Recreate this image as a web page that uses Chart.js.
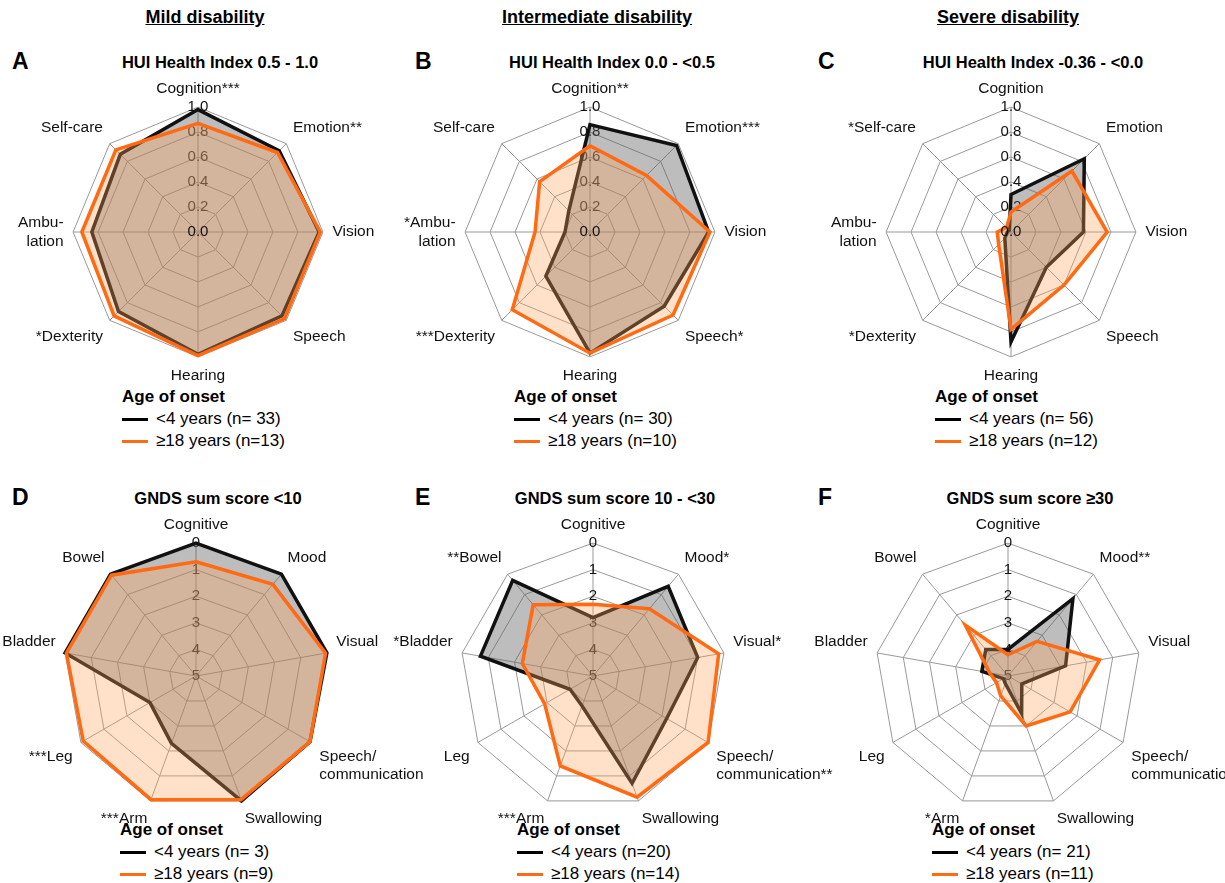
<!DOCTYPE html>
<html><head><meta charset="utf-8">
<script src="https://cdn.jsdelivr.net/npm/chart.js@4.4.0/dist/chart.umd.min.js"></script>
<style>
body{margin:0;width:1225px;height:883px;background:#fff;font-family:Arial,"Liberation Sans",sans-serif;position:relative;overflow:hidden}
.abs{position:absolute}
.col{font-weight:bold;font-size:18px;text-decoration:underline;transform:translateX(-50%);white-space:nowrap}
.let{font-weight:bold;font-size:23px}
.tit{font-weight:bold;font-size:16.5px;transform:translateX(-50%);white-space:nowrap}
.leg{font-size:17px;line-height:22px;white-space:nowrap}
.leg b{font-size:17px}
.leg span{display:inline-block;width:26px;height:3px;vertical-align:middle;margin-right:8px}
canvas{position:absolute}
</style></head><body>
<div class="abs col" style="left:205px;top:7px">Mild disability</div>
<div class="abs col" style="left:597px;top:7px">Intermediate disability</div>
<div class="abs col" style="left:1008px;top:7px">Severe disability</div>
<div id="root"></div>
<script>
// HUI panels: values 0..1, axes clockwise from top
const aLabels = ['Cognition***', 'Emotion**', 'Vision', 'Speech', 'Hearing', '*Dexterity', ['Ambu-', 'lation'], 'Self-care'];
const aEarly = [0.98, 0.92, 0.97, 0.95, 0.98, 0.9, 0.85, 0.88];
const aLate  = [0.87, 0.9, 0.98, 0.98, 0.99, 0.95, 0.93, 0.93];
const bLabels = ['Cognition**', 'Emotion***', 'Vision', 'Speech*', 'Hearing', '***Dexterity', ['*Ambu-', 'lation'], 'Self-care'];
const bEarly = [0.86, 0.98, 0.95, 0.84, 0.97, 0.5, 0.2, 0.24];
const bLate  = [0.69, 0.64, 0.96, 0.94, 0.97, 0.88, 0.44, 0.57];
const cLabels = ['Cognition', 'Emotion', 'Vision', 'Speech', 'Hearing', '*Dexterity', ['Ambu-', 'lation'], '*Self-care'];
const cEarly = [0.3, 0.83, 0.58, 0.4, 0.88, 0.07, 0.03, 0.02];
const cLate  = [0.16, 0.69, 0.77, 0.6, 0.78, 0.14, 0.11, 0.05];
// GNDS panels: values 0 (outer) .. 5 (centre)
const dLabels = ['Cognitive', 'Mood', 'Visual', ['Speech/', 'communication'], 'Swallowing', '***Arm', '***Leg', 'Bladder', 'Bowel'];
const dEarly = [0, 0, 0, 0.05, 0, 2.3, 3.0, 0, 0];
const dLate  = [0.7, 0.5, 0.05, 0.05, 0.05, 0.05, 0.1, 0.05, 0.05];
const eLabels = ['Cognitive', 'Mood*', 'Visual*', ['Speech/', 'communication**'], 'Swallowing', '***Arm', 'Leg', '*Bladder', '**Bowel'];
const eEarly = [2.8, 0.6, 1.0, 1.8, 0.7, 3.8, 4.0, 0.7, 0.3];
const eLate  = [2.3, 1.7, 0.2, 0.0, 0.15, 1.4, 2.9, 2.3, 1.5];
const fLabels = ['Cognitive', 'Mood**', 'Visual', ['Speech/', 'communication***'], 'Swallowing', '*Arm', 'Leg', 'Bladder', 'Bowel'];
const fEarly = [4.0, 1.2, 2.8, 4.4, 3.5, 4.7, 4.8, 4.0, 3.7];
const fLate  = [4.2, 3.3, 1.5, 2.3, 3.0, 4.2, 4.5, 4.3, 2.5];

const panels = [
  {l: 'A', t: 'HUI Health Index 0.5 - 1.0', cx: 198, row: 0, labels: aLabels, early: aEarly, late: aLate, hui: true, n: ['<4 years (n= 33)', '≥18 years (n=13)']},
  {l: 'B', t: 'HUI Health Index 0.0 - <0.5', cx: 590, row: 0, labels: bLabels, early: bEarly, late: bLate, hui: true, n: ['<4 years (n= 30)', '≥18 years (n=10)']},
  {l: 'C', t: 'HUI Health Index -0.36 - <0.0', cx: 1011, row: 0, labels: cLabels, early: cEarly, late: cLate, hui: true, n: ['<4 years (n= 56)', '≥18 years (n=12)']},
  {l: 'D', t: 'GNDS sum score <10', cx: 196, row: 1, labels: dLabels, early: dEarly, late: dLate, hui: false, n: ['<4 years (n= 3)', '≥18 years (n=9)']},
  {l: 'E', t: 'GNDS sum score 10 - <30', cx: 593, row: 1, labels: eLabels, early: eEarly, late: eLate, hui: false, n: ['<4 years (n=20)', '≥18 years (n=14)']},
  {l: 'F', t: 'GNDS sum score ≥30', cx: 1008, row: 1, labels: fLabels, early: fEarly, late: fLate, hui: false, n: ['<4 years (n= 21)', '≥18 years (n=11)']}
];

// draw "0.0" at centre for HUI charts (Chart.js skips the first tick)
const centreTick = {
  id: 'centreTick',
  afterDraw(chart) {
    if (!chart.options.plugins.centreTick.show) return;
    const s = chart.scales.r, c = chart.ctx;
    c.save();
    c.font = '15px Arial';
    c.fillStyle = '#111';
    c.textAlign = 'center';
    c.textBaseline = 'middle';
    c.fillText('0.0', s.xCenter, s.yCenter);
    c.restore();
  }
};

const root = document.getElementById('root');
panels.forEach(p => {
  const off = p.row ? 436 : 0;
  const col = p.cx < 400 ? 12 : (p.cx < 800 ? 415 : 818);
  const H = p.hui ? 307 : 323;
  const cy = p.hui ? 232 : 672;
  root.insertAdjacentHTML('beforeend',
    `<div class="abs let" style="left:${col}px;top:${off + 48}px">${p.l}</div>` +
    `<div class="abs tit" style="left:${p.cx + 22}px;top:${off + 53}px">${p.t}</div>` +
    `<div class="abs leg" style="left:${p.cx - 76}px;top:${p.row ? 819 : 386}px"><b>Age of onset</b><br>` +
    `<span style="background:#000"></span>${p.n[0]}<br><span style="background:#ff6a13"></span>${p.n[1]}</div>`);
  const cv = document.createElement('canvas');
  cv.style.left = (p.cx - 280) + 'px';
  cv.style.top = (cy - H / 2) + 'px';
  cv.style.width = '560px';
  cv.style.height = H + 'px';
  cv.width = 560; cv.height = H;
  document.body.appendChild(cv);
  // fill towards the centre (GNDS axis is reversed: 5 sits in the middle)
  const fill = p.hui ? 'origin' : {value: 5};
  new Chart(cv, {
    type: 'radar',
    data: {
      labels: p.labels,
      datasets: [
        {data: p.late, borderColor: '#ff6a13', backgroundColor: 'rgba(255,160,90,0.33)', borderWidth: 3.5, pointRadius: 0, fill: fill},
        {data: p.early, borderColor: '#111', backgroundColor: 'rgba(90,90,90,0.4)', borderWidth: 3.5, pointRadius: 0, fill: fill}
      ]
    },
    options: {
      responsive: false,
      animation: false,
      layout: {padding: 0},
      plugins: {legend: {display: false}, tooltip: {enabled: false}, centreTick: {show: p.hui}},
      scales: {
        r: {
          min: 0, max: p.hui ? 1 : 5, reverse: !p.hui,
          ticks: {stepSize: p.hui ? 0.2 : 1, showLabelBackdrop: false, color: '#111', font: {size: 15},
            callback: v => p.hui ? v.toFixed(1) : v},
          grid: {color: '#999', lineWidth: 1},
          angleLines: {color: '#999'},
          pointLabels: {color: '#111', font: {size: 15.5}, padding: 0}
        }
      }
    },
    plugins: [centreTick]
  });
});
</script>
</body></html>
